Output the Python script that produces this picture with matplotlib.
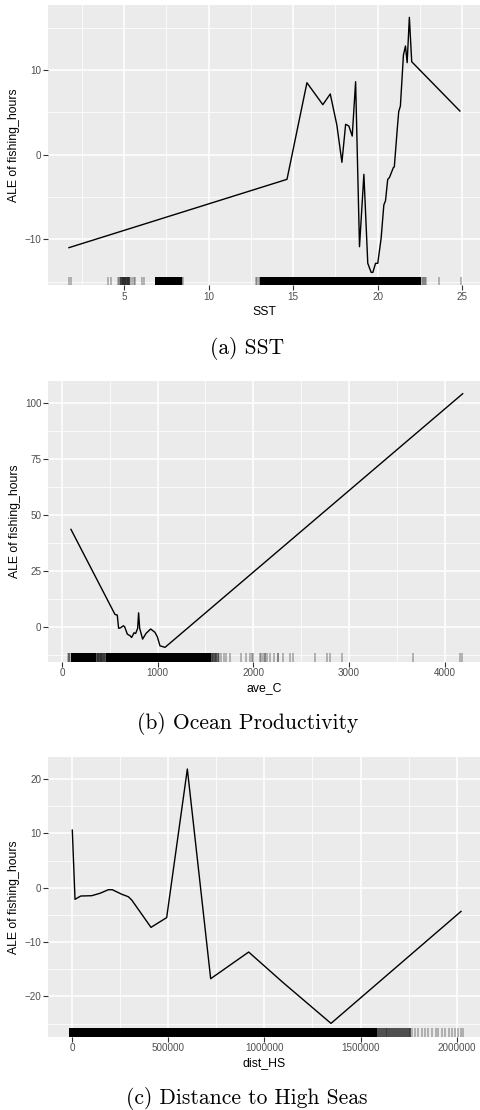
import matplotlib
matplotlib.use('Agg')
import matplotlib.pyplot as plt
from matplotlib.ticker import FixedLocator

# --- DATA ---
# (a) SST
sst_x = [1.73, 14.63, 15.81, 16.75, 17.19, 17.58, 17.88, 18.10, 18.29, 18.49, 18.69,
         18.92, 19.18, 19.41, 19.61, 19.71, 19.87, 20.00, 20.20, 20.36, 20.46, 20.59,
         20.69, 20.93, 20.98, 21.15, 21.24, 21.34, 21.52, 21.64, 21.74, 21.87, 22.01, 24.86]
sst_y = [-10.98, -2.91, 8.50, 5.91, 7.17, 3.51, -0.90, 3.59, 3.39, 2.20, 8.62,
         -10.87, -2.32, -12.83, -13.90, -13.90, -12.83, -12.83, -9.88, -5.94, -5.43, -2.91,
         -2.71, -1.49, -1.45, 2.92, 5.08, 5.75, 11.78, 12.84, 10.87, 16.22, 10.98, 5.16]
sst_rug = [1.72, 1.87, 4.04, 4.20, 4.63, 4.70, 4.76, 4.80, 4.85, 4.90, 4.95, 5.00, 5.02,
           5.05, 5.10, 5.15, 5.20, 5.25, 5.30, 5.35, 5.45, 5.55, 5.65, 6.05, 6.18,
           8.35, 8.42, 8.50, 12.80, 12.88, 12.95, 13.02, 22.60, 22.66, 22.72, 22.80,
           22.86, 23.65, 24.95]
sst_dense = [(6.83, 8.40), (13.05, 22.58)]     # rug spans that print solid black
sst_mid = [(4.75, 5.35)]                        # rug spans that print dark grey

# (b) Ocean Productivity
avec_x = [94, 554, 578, 592, 613, 641, 655, 683, 711, 728, 753, 770, 791, 801, 812,
          843, 878, 927, 972, 997, 1024, 1077, 4188]
avec_y = [43.75, 5.8, 5.5, -0.4, -0.15, 0.74, 0.3, -3.0, -3.7, -4.5, -2.4, -2.7, -0.4,
          6.5, -0.4, -5.2, -2.7, -0.7, -2.2, -4.2, -8.2, -8.9, 104.3]
avec_rug = [63, 70, 78, 85, 365, 372, 380, 388, 396, 404, 412, 420, 430, 440, 450,
            1565, 1578, 1596, 1613, 1638, 1665, 1693, 1717, 1753, 1874, 1926, 1962,
            1983, 1997, 2083, 2070, 2098, 2119, 2122, 2146, 2174, 2216, 2261, 2261,
            2313, 2383, 2418, 2645, 2767, 2801, 2924, 3672, 4160, 4181]
avec_dense = [(90, 359), (463, 1561)]
avec_mid = [(359, 463), (1561, 1640)]

# (c) Distance to High Seas
dist_x = [1600, 15600, 45200, 102400, 145600, 188900, 209700, 258400, 292900, 310400,
          370900, 410700, 492200, 599700, 721000, 918500, 1098800, 1346600, 2022500]
dist_y = [10.6, -2.14, -1.53, -1.47, -1.03, -0.37, -0.37, -1.2, -1.66, -2.26,
          -5.3, -7.3, -5.5, 21.84, -16.75, -11.84, -17.5, -24.97, -4.36]
dist_rug = [1590000, 1600000, 1610000, 1620000, 1630000, 1640000, 1650000, 1660000,
            1670000, 1680000, 1690000, 1700000, 1710000, 1720000, 1730000, 1740000,
            1750000, 1757000, 1770000, 1785000, 1800000, 1820000, 1835000, 1850000,
            1870000, 1890000, 1905000, 1925000, 1940000, 1960000, 1975000, 1990000,
            2005000, 2020000, 2034000]
dist_dense = [(-15000, 1584000)]
dist_mid = [(1584000, 1760000)]

panels = [
    dict(x=sst_x, y=sst_y, rug=sst_rug, dense=sst_dense, mid=sst_mid, xlabel='SST',
         xlim=(0.49, 26.05), ylim=(-15.39, 17.68),
         xmaj=[5, 10, 15, 20, 25], xmin=[2.5, 7.5, 12.5, 17.5, 22.5],
         xlab=['5', '10', '15', '20', '25'],
         ymaj=[-10, 0, 10], ymin=[-15, -5, 5, 15], ylab=['\u221210', '0', '10'],
         pos=[0.1, 1 - 285 / 1110, 0.9, 280 / 1110],
         caption='(a) SST', cap_y=1 - 349 / 1110),
    dict(x=avec_x, y=avec_y, rug=avec_rug, dense=avec_dense, mid=avec_mid, xlabel='ave_C',
         xlim=(-146, 4369), ylim=(-15.3, 110.1),
         xmaj=[0, 1000, 2000, 3000, 4000], xmin=[500, 1500, 2500, 3500],
         xlab=['0', '1000', '2000', '3000', '4000'],
         ymaj=[0, 25, 50, 75, 100], ymin=[-12.5, 12.5, 37.5, 62.5, 87.5],
         ylab=['0', '25', '50', '75', '100'],
         pos=[0.1, 1 - 661.7 / 1110, 0.9, 281 / 1110],
         caption='(b) Ocean Productivity', cap_y=1 - 723.5 / 1110),
    dict(x=dist_x, y=dist_y, rug=dist_rug, dense=dist_dense, mid=dist_mid, xlabel='dist_HS',
         xlim=(-124800, 2121300), ylim=(-27.42, 24.11),
         xmaj=[0, 500000, 1000000, 1500000, 2000000],
         xmin=[250000, 750000, 1250000, 1750000],
         xlab=['0', '500000', '1000000', '1500000', '2000000'],
         ymaj=[-20, -10, 0, 10, 20], ymin=[-25, -15, -5, 5, 15],
         ylab=['\u221220', '\u221210', '0', '10', '20'],
         pos=[0.1, 1 - 1036.7 / 1110, 0.9, 280 / 1110],
         caption='(c) Distance to High Seas', cap_y=1 - 1098 / 1110),
]

plt.rcParams['font.family'] = ['Liberation Sans', 'DejaVu Sans']

fig = plt.figure(figsize=(4.8, 11.1), dpi=100)

for p in panels:
    ax = fig.add_axes(p['pos'])
    ax.set_facecolor('#EBEBEB')
    for s in ax.spines.values():
        s.set_visible(False)
    ax.set_axisbelow(True)

    ax.xaxis.set_major_locator(FixedLocator(p['xmaj']))
    ax.xaxis.set_minor_locator(FixedLocator(p['xmin']))
    ax.yaxis.set_major_locator(FixedLocator(p['ymaj']))
    ax.yaxis.set_minor_locator(FixedLocator(p['ymin']))
    ax.set_xticklabels(p['xlab'])
    ax.set_yticklabels(p['ylab'])
    ax.grid(which='major', color='white', lw=1.1)
    ax.grid(which='minor', color='white', lw=0.55)
    ax.tick_params(which='major', length=3.3, width=0.8, color='#333333',
                   labelsize=7.1, labelcolor='#4D4D4D', pad=1.5)
    ax.tick_params(which='minor', length=0)

    # ALE curve
    ax.plot(p['x'], p['y'], color='black', lw=1.0, zorder=3)

    # rug: dense parts as spans, sparse parts as single ticks
    tr = ax.get_xaxis_transform()
    for x0, x1 in p['dense']:
        ax.axvspan(x0, x1, ymin=0, ymax=0.03, color='black', lw=0, zorder=2)
    for x0, x1 in p['mid']:
        ax.axvspan(x0, x1, ymin=0, ymax=0.03, color='black', alpha=0.55, lw=0, zorder=2)
    ax.vlines(p['rug'], 0, 0.03, transform=tr, color='black', alpha=0.3,
              lw=1.2, zorder=2)

    ax.set_xlim(*p['xlim'])
    ax.set_ylim(*p['ylim'])
    ax.set_xlabel(p['xlabel'], fontsize=8.8, labelpad=3)
    ax.set_ylabel('ALE of fishing_hours', fontsize=8.8, labelpad=3)

    fig.text(0.515, p['cap_y'], p['caption'], ha='center', va='center',
             fontsize=15.5, family='cmr10')

fig.savefig('out.png', dpi=100)
